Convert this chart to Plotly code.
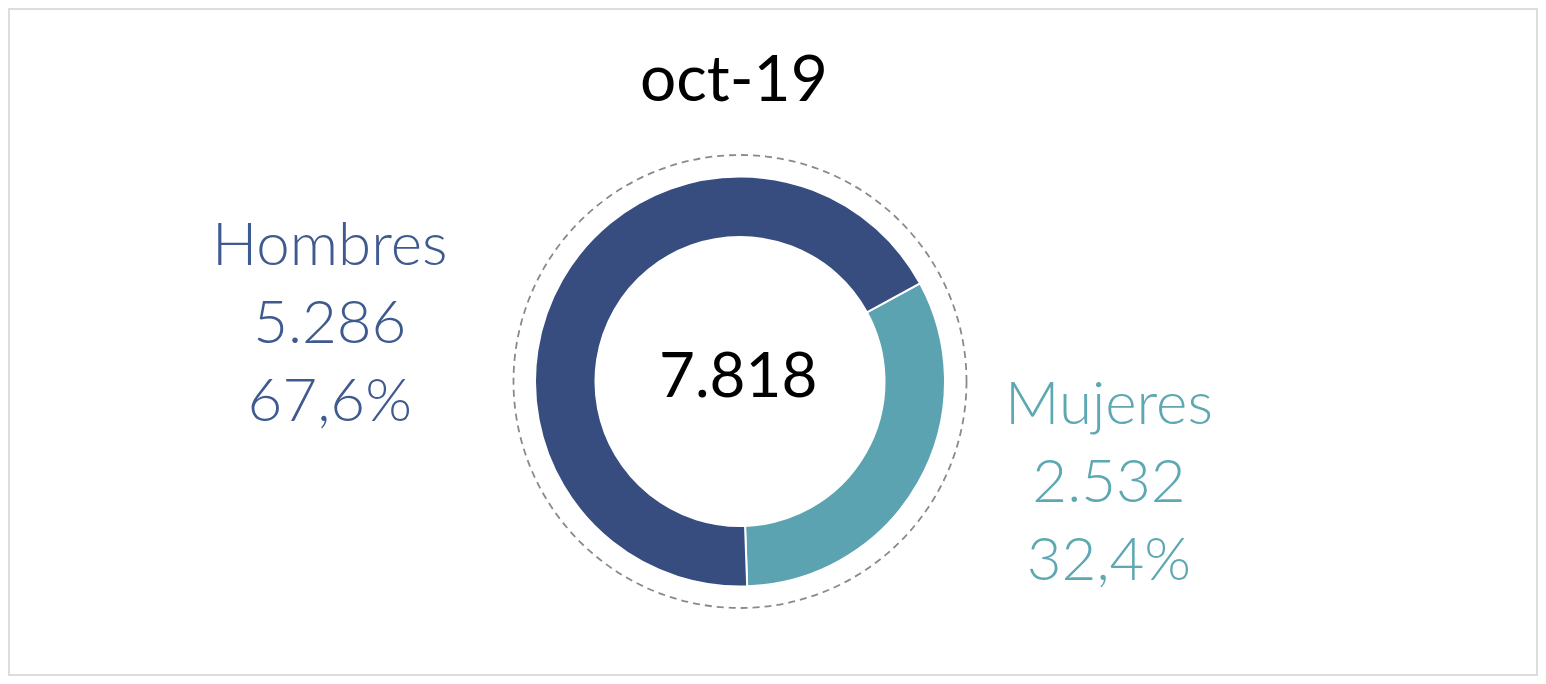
import plotly.graph_objects as go

categories = ["Mujeres", "Hombres"]
values = [2532, 5286]
colors = ["#5BA3B0", "#374D80"]
text_colors = {"Hombres": "#3F5A8F", "Mujeres": "#5EA8B3"}
title_text = "oct-19"
total = sum(values)

# page body has an 8px default margin; lay out in screen pixels
OFF = 8
W, H = 1546 - 2 * OFF, 684 - 2 * OFF
cx, cy = 740, 381.5
r_out, r_dash = 205, 226.5


def px(x):
    return (x - OFF) / W


def py(y):
    return (H - (y - OFF)) / H


def fmt_int(v):
    return f"{v:,}".replace(",", ".")


def fmt_pct(v):
    return f"{v:.1f}".replace(".", ",") + "%"


fig = go.Figure()
fig.add_trace(go.Pie(
    labels=categories,
    values=values,
    hole=0.705,
    sort=False,
    direction="clockwise",
    rotation=61.4,
    marker=dict(colors=colors, line=dict(color="white", width=2)),
    textinfo="none",
    hoverinfo="label+value+percent",
    showlegend=False,
    domain=dict(x=[px(cx - r_out), px(cx + r_out)], y=[py(cy + r_out), py(cy - r_out)]),
))

shapes = [
    dict(type="circle", xref="paper", yref="paper",
         x0=px(cx - r_dash), x1=px(cx + r_dash), y0=py(cy + r_dash), y1=py(cy - r_dash),
         line=dict(color="#8a8a8a", width=1.8, dash="7px,5px"), layer="below"),
    dict(type="rect", xref="paper", yref="paper", x0=0, x1=1, y0=0, y1=1,
         line=dict(color="#dddddd", width=4), layer="above"),
]

ann = []
ann.append(dict(text=title_text, x=px(734), y=py(76), xref="paper", yref="paper",
                showarrow=False, xanchor="center", yanchor="middle",
                font=dict(family="Lato", size=64, color="#000000")))
ann.append(dict(text=fmt_int(total), x=px(738), y=py(373), xref="paper", yref="paper",
                showarrow=False, xanchor="center", yanchor="middle",
                font=dict(family="Lato", size=62, color="#000000")))

label_pos = {"Hombres": (330, 320), "Mujeres": (1109, 479)}
for cat, v in zip(categories, values):
    x, y = label_pos[cat]
    ann.append(dict(
        text=f"{cat}<br>{fmt_int(v)}<br>{fmt_pct(100 * v / total)}",
        x=px(x), y=py(y), xref="paper", yref="paper",
        showarrow=False, xanchor="center", yanchor="middle", align="center",
        font=dict(family="Lato", size=60, color=text_colors[cat], weight=300)))

fig.update_layout(
    width=W, height=H,
    margin=dict(l=0, r=0, t=0, b=0),
    paper_bgcolor="white", plot_bgcolor="white",
    shapes=shapes, annotations=ann,
)

fig.write_html("out.html")
